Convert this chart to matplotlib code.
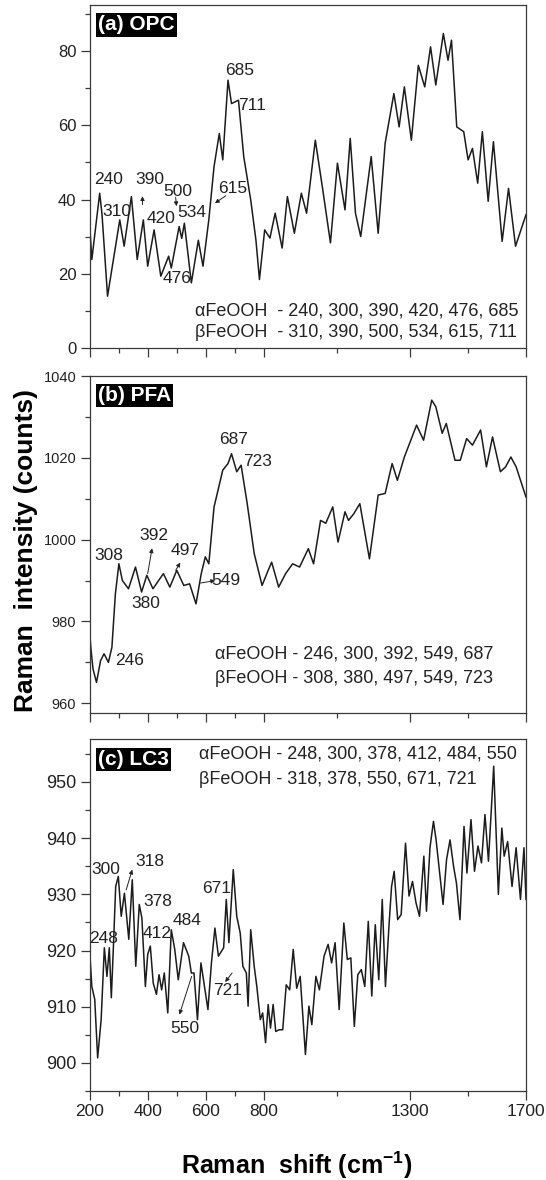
import matplotlib
matplotlib.use("Agg")
import matplotlib.pyplot as plt
from matplotlib.ticker import FixedLocator, MultipleLocator, NullFormatter

plt.rcParams['font.family'] = ['Liberation Sans', 'DejaVu Sans']
plt.rcParams['mathtext.fontset'] = 'custom'
plt.rcParams['mathtext.rm'] = 'Liberation Sans'
plt.rcParams['mathtext.bf'] = 'Liberation Sans:bold'

# ---------------- spectra ----------------
opc_x = [200, 208, 235, 243, 262, 304, 319, 344, 364, 385, 400, 422, 445, 472, 481,
         508, 517, 526, 550, 574, 590, 610, 628, 646, 658, 676, 688, 712, 730, 754,
         772, 784, 802, 820, 838, 862, 880, 904, 928, 946, 976, 1000, 1028, 1052, 1078,
         1096, 1114, 1132, 1168, 1192, 1216, 1246, 1264, 1282, 1306, 1330, 1352, 1372,
         1390, 1416, 1432, 1444, 1462, 1486, 1501, 1516, 1534, 1550, 1570, 1588, 1618,
         1640, 1664, 1700]
opc_y = [34, 23.8, 41.7, 36, 13.9, 34.5, 27.4, 40.8, 23.8, 34.5, 22, 31.8, 19.3, 24.7, 21.5,
         32.7, 29.5, 33.6, 17.5, 29, 22, 34.5, 48.9, 57.8, 50.7, 72.2, 65.9, 66.8, 51.6, 39.9,
         29, 18.4, 31.8, 29.6, 36.3, 26.9, 40.8, 30.9, 41.7, 36.3, 56, 43.5, 28.3, 49.8, 37.2,
         56.5, 36.3, 30, 51.6, 30.9, 55.2, 68.6, 59.6, 70.4, 56, 76.2, 70.4, 81.2,
         70.9, 84.8, 77.6, 83, 59.6, 58.3, 50.7, 53.8, 44.4, 58.3, 39.5, 55.6, 28.7,
         43, 27.4, 35.9]

pfa_x = [200, 205, 212, 224, 238, 250, 265, 277, 289, 301, 313, 334, 358, 379, 397,
         418, 454, 476, 500, 524, 544, 566, 584, 598, 610, 628, 658, 676, 688, 706,
         721, 742, 766, 793, 814, 826, 850, 874, 898, 922, 952, 970, 994, 1012, 1036,
         1054, 1078, 1090, 1108, 1129, 1162, 1192, 1216, 1240, 1258, 1282, 1324, 1348,
         1376, 1390, 1412, 1426, 1456, 1474, 1496, 1516, 1544, 1564, 1585, 1612, 1630,
         1648, 1666, 1700]
pfa_y = [977.8, 973.3, 968.4, 965.1, 970.4, 972.1, 970, 973.7, 986.8, 994.1, 990, 988, 993.3,
         987.2, 991.3, 988, 991.7, 988.4, 992.5, 988.8, 989.2, 984.3, 991.7, 995.8, 994.1,
         1008, 1017, 1018.6, 1021, 1016.6, 1018.2, 1008.8, 996.6, 988.8, 992.5, 994.5,
         988.4, 991.7, 994.1, 993.3, 997.8, 994.1, 1004.7, 1004, 1008, 999.4, 1006.8,
         1004.7, 1006.3, 1008.8, 995.3, 1010.9, 1011.3, 1018.6, 1014.5, 1020.2, 1028,
         1024.3, 1034.1, 1032.5, 1026, 1028.4, 1019.4, 1019.4, 1024.7, 1023.1, 1026.8,
         1017.8, 1025.1, 1016.6, 1017.8, 1020.2, 1017.8, 1010.4]

lc3_x = [200, 208, 218, 228, 240, 251, 260, 268, 275, 282,
         290, 299, 309, 320, 335, 347, 359, 371, 380, 392,
         400, 409, 419, 430, 439, 448, 457, 469, 481, 493,
         505, 523, 541, 550, 559, 571, 583, 595, 607, 619,
         631, 643, 661, 670, 679, 694, 706, 718, 727, 739,
         745, 754, 766, 775, 787, 795, 805, 814, 822, 831,
         840, 852, 864, 876, 888, 900, 912, 924, 942, 954,
         964, 978, 990, 1006, 1020, 1032, 1044, 1058, 1074, 1086,
         1098, 1110, 1122, 1134, 1146, 1158, 1170, 1182, 1194, 1206,
         1217, 1229, 1238, 1247, 1259, 1271, 1286, 1298, 1310, 1322,
         1334, 1349, 1358, 1370, 1382, 1391, 1406, 1415, 1427, 1439,
         1451, 1461, 1473, 1487, 1497, 1511, 1523, 1535, 1547, 1559,
         1571, 1589, 1605, 1617, 1625, 1637, 1652, 1666, 1681, 1693,
         1700]
lc3_y = [920.5, 913.6, 911.3, 900.9, 907.7, 920.5, 915.4, 920.5, 911.6, 920.5,
         931.4, 933.2, 926.1, 930.2, 922, 932.6, 917.2, 928.2, 925.8, 913.6,
         919.3, 920.8, 914.2, 912.2, 915.7, 913, 916, 908.9, 923.7, 920.2,
         914.8, 921.4, 919, 916, 916, 907.7, 917.8, 913.6, 909.5, 917.8,
         924, 919, 920.5, 929.1, 921.4, 934.4, 926.1, 923.1, 917.2, 916,
         910.1, 923.7, 917.2, 913.6, 907.7, 908.9, 903.6, 910.4, 906.2, 910.4,
         905.6, 905.9, 905.9, 913.9, 913, 920.2, 913.3, 915.4, 901.5, 910.1,
         906.8, 915.4, 913, 919, 921.1, 917.8, 921.4, 909.5, 924.9, 918.4,
         918.7, 906.5, 915.7, 916.6, 913.6, 925.2, 911.9, 924.6, 914.8, 929.1,
         913.6, 924.3, 931.4, 934.1, 925.5, 926.4, 939.1, 929.7, 932.3, 928.5,
         926.1, 936.8, 927, 938.3, 943, 939.7, 932.6, 928.2, 936.2, 939.7,
         935, 932, 925.5, 942.1, 933.8, 943.3, 934.1, 938.6, 935.6, 944.2,
         935.9, 952.8, 930, 941.8, 936.8, 939.4, 931.4, 938.3, 929.1, 938.3,
         929.1]

# ---------------- axis ticks ----------------
x_major = [200, 400, 600, 800, 1300, 1700]
x_minor = [300, 500, 700, 1050, 1500]

# ---------------- peak labels ----------------
opc_peaks = ["240", "310", "390", "420", "476", "500", "534", "615", "685", "711"]
opc_peak_pos = [(265, 45.3), (295, 36.8), (406, 45.3), (445, 35.0), (502, 18.8),
                (505, 42.2), (553, 36.5), (692, 43.0), (716, 74.9), (760, 65.5)]
opc_alpha = "\u03b1FeOOH  - 240, 300, 390, 420, 476, 685"
opc_beta = "\u03b2FeOOH  - 310, 390, 500, 534, 615, 711"

pfa_peaks = ["246", "308", "380", "392", "497", "549", "687", "723"]
pfa_peak_pos = [(337, 970.4), (265, 996.2), (392, 984.3), (421, 1001.0),
                (529, 997.4), (668, 990.0), (694, 1024.5), (778, 1019.0)]
pfa_alpha = "\u03b1FeOOH - 246, 300, 392, 549, 687"
pfa_beta = "\u03b2FeOOH - 308, 380, 497, 549, 723"

lc3_peaks = ["248", "300", "318", "378", "412", "484", "550", "671", "721"]
lc3_peak_pos = [(248, 922.2), (257, 934.4), (406, 935.8), (433, 928.8), (431, 923.1),
                (534, 925.4), (527, 906.2), (638, 931.0), (675, 912.8)]
lc3_alpha = "\u03b1FeOOH - 248, 300, 378, 412, 484, 550"
lc3_beta = "\u03b2FeOOH - 318, 378, 550, 671, 721"

W, H = 546, 1180
fig = plt.figure(figsize=(W / 100, H / 100), dpi=100)

L, R = 89.5, 526.0


def rect(top, bottom):
    return [L / W, 1 - bottom / H, (R - L) / W, (bottom - top) / H]


line_kw = dict(color="#1c1c1c", lw=1.1)
txt_col = "#222222"
spine_col = "#3a3a3a"


def style(ax, ylim, ymaj, ymin, ysize, show_xlabels):
    ax.set_xlim(200, 1700)
    ax.set_ylim(*ylim)
    ax.xaxis.set_major_locator(FixedLocator(x_major))
    ax.xaxis.set_minor_locator(FixedLocator(x_minor))
    ax.yaxis.set_major_locator(MultipleLocator(ymaj))
    ax.yaxis.set_minor_locator(MultipleLocator(ymin))
    ax.tick_params(which="major", direction="out", length=6.5, width=0.9,
                   color=spine_col, labelcolor=txt_col, pad=3)
    ax.tick_params(which="minor", direction="out", length=3.8, width=0.9, color=spine_col)
    ax.tick_params(axis="y", labelsize=ysize)
    ax.tick_params(axis="x", labelsize=12.5)
    if not show_xlabels:
        ax.xaxis.set_major_formatter(NullFormatter())
    for s in ax.spines.values():
        s.set_color(spine_col)
        s.set_linewidth(0.9)


def tag(ax, text):
    ax.text(0.019, 0.942, text, transform=ax.transAxes, ha="left", va="center",
            fontsize=15, fontweight="bold", color="white",
            bbox=dict(facecolor="black", edgecolor="none", pad=1.6))


def arrow(ax, tail, head):
    ax.annotate("", xy=head, xytext=tail,
                arrowprops=dict(arrowstyle="-|>", lw=0.7, color="#222222",
                                mutation_scale=6, shrinkA=0, shrinkB=0))


fs = 12.5

# (a) OPC
ax1 = fig.add_axes(rect(5, 347.7))
ax1.plot(opc_x, opc_y, **line_kw)
style(ax1, (0, 92.5), 20, 10, 12, False)
tag(ax1, "(a) OPC")
for t, (x, y) in zip(opc_peaks, opc_peak_pos):
    ax1.text(x, y, t, ha="center", va="center", fontsize=fs, color=txt_col)
arrow(ax1, (668, 41.0), (631, 39.0))
arrow(ax1, (382, 38.6), (382, 40.9))
arrow(ax1, (496, 40.6), (499, 38.2))
ax1.text(562, 9.9, opc_alpha, ha="left", va="center", fontsize=13, color=txt_col)
ax1.text(562, 4.0, opc_beta, ha="left", va="center", fontsize=13, color=txt_col)

# (b) PFA
ax2 = fig.add_axes(rect(376, 712.7))
ax2.plot(pfa_x, pfa_y, **line_kw)
style(ax2, (957.7, 1040), 20, 10, 10.5, False)
tag(ax2, "(b) PFA")
for t, (x, y) in zip(pfa_peaks, pfa_peak_pos):
    ax2.text(x, y, t, ha="center", va="center", fontsize=fs, color=txt_col)
arrow(ax2, (400, 991.7), (415, 997.9))
arrow(ax2, (496, 992.5), (512, 994.4))
arrow(ax2, (582, 989.4), (632, 990.0))
ax2.text(632, 972.1, pfa_alpha, ha="left", va="center", fontsize=13, color=txt_col)
ax2.text(632, 966.0, pfa_beta, ha="left", va="center", fontsize=13, color=txt_col)

# (c) LC3
ax3 = fig.add_axes(rect(739.3, 1091))
ax3.plot(lc3_x, lc3_y, **line_kw)
style(ax3, (895, 957.6), 10, 5, 13, True)
tag(ax3, "(c) LC3")
for t, (x, y) in zip(lc3_peaks, lc3_peak_pos):
    ax3.text(x, y, t, ha="center", va="center", fontsize=fs, color=txt_col)
arrow(ax3, (326, 930.8), (347, 934.4))
arrow(ax3, (551, 915.4), (509, 908.6))
arrow(ax3, (690, 916.0), (666, 914.4))
ax3.text(575, 954.9, lc3_alpha, ha="left", va="center", fontsize=13, color=txt_col)
ax3.text(575, 950.4, lc3_beta, ha="left", va="center", fontsize=13, color=txt_col)

fig.text(26 / W, 1 - 551 / H, "Raman  intensity (counts)", rotation=90,
         ha="center", va="center", fontsize=19, fontweight="bold", color="black")
fig.text(297 / W, 1 - 1165 / H, r"Raman  shift (cm$^{\mathbf{-1}}$)",
         ha="center", va="center", fontsize=18, fontweight="bold", color="black")

fig.savefig("out.png", dpi=100)
